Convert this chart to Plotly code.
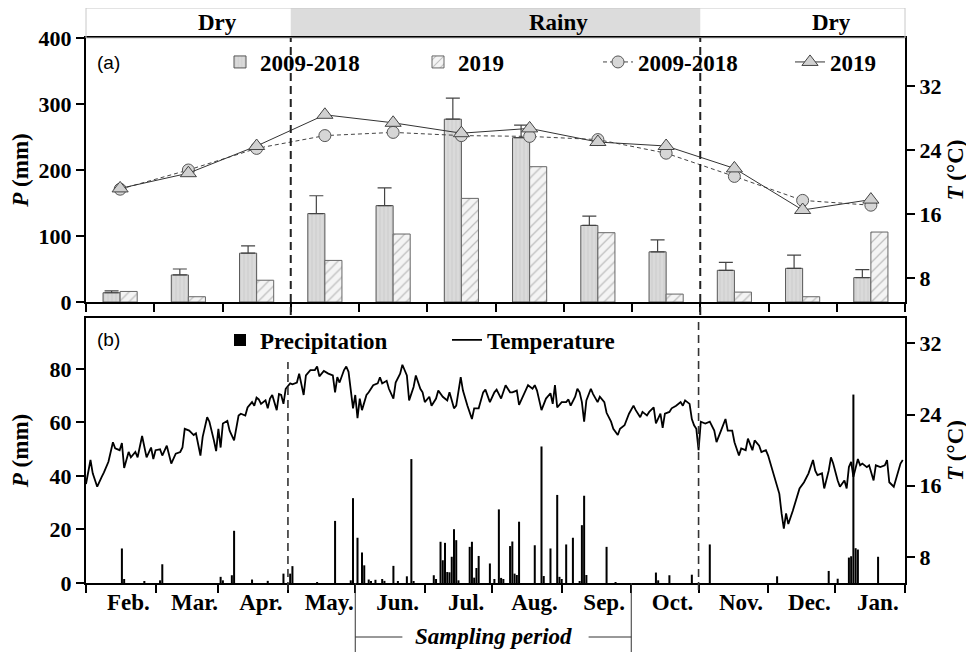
import plotly.graph_objects as go

# MONTHLY DATA (panel a) ######################################################
months = ["Feb.", "Mar.", "Apr.", "May.", "Jun.", "Jul.", "Aug.", "Sep.",
          "Oct.", "Nov.", "Dec.", "Jan."]
p_mean = [14, 41, 74, 134, 146, 277, 249, 116, 76, 48, 51, 37]
p_err = [3, 9, 11, 27, 27, 32, 19, 14, 18, 12, 20, 12]
p_2019 = [16, 8, 33, 63, 103, 157, 205, 105, 12, 15, 8, 106]
t_mean = [19.1, 21.5, 24.2, 25.8, 26.2, 25.8, 25.7, 25.3, 23.6, 20.7, 17.7, 17.1]
t_2019 = [19.2, 21.1, 24.5, 28.4, 27.4, 26.1, 26.7, 25.0, 24.5, 21.7, 16.5, 17.8]

# DAILY DATA (panel b), day 0 = first day on the axis ##########################
precip_day = [16, 17, 26, 33, 34, 60, 61, 65, 66, 74, 81, 88, 91, 92, 103, 111,
              118, 119, 121, 123, 124, 126, 127, 129, 132, 133, 137, 139, 143,
              145, 146, 155, 156, 158, 159, 160, 161, 162, 163, 164, 165, 166,
              171, 172, 173, 174, 175, 180, 182, 184, 185, 186, 189, 190, 191,
              192, 193, 200, 203, 204, 207, 210, 211, 212, 214, 217, 220, 221,
              222, 223, 232, 236, 254, 255, 260, 270, 278, 308, 331, 335, 340,
              341, 342, 343, 344, 353]
precip_mm = [12.9, 1.5, 0.5, 1.0, 7.0, 2.3, 1.0, 2.9, 19.5, 1.3, 0.8, 3.5, 3.5,
             6.3, 0.3, 23.2, 1.0, 31.7, 16.9, 11.4, 6.6, 1.3, 0.7, 1.2, 1.5, 0.8,
             6.4, 0.5, 2.5, 46.3, 0.5, 2.9, 1.5, 15.4, 8.5, 15.0, 4.1, 4.0, 9.8,
             20.1, 16.0, 1.0, 13.5, 15.4, 2.0, 5.6, 10.1, 7.3, 1.5, 27.5, 1.9,
             1.5, 13.8, 15.5, 3.5, 3.0, 22.9, 14.1, 51.0, 2.6, 12.9, 32.9, 2.3,
             1.5, 14.4, 16.9, 0.5, 21.6, 32.6, 3.0, 13.5, 0.3, 3.9, 1.0, 2.9,
             3.1, 14.4, 2.5, 4.5, 1.6, 9.5, 10.0, 70.4, 13.0, 12.5, 9.8]

temp_day = [0, 2, 3, 5, 7, 8, 10, 12, 13, 15, 16, 17, 19, 20, 22, 23, 25, 26, 27,
            29, 30, 31, 33, 34, 36, 38, 40, 42, 43, 44, 46, 48, 49, 51, 52, 54,
            55, 57, 58, 59, 60, 61, 63, 64, 66, 68, 69, 71, 72, 74, 75, 76, 77,
            78, 80, 81, 82, 83, 85, 86, 87, 88, 89, 91, 92, 94, 95, 97, 98, 100,
            102, 103, 104, 106, 108, 110, 111, 112, 113, 115, 116, 117, 118, 119,
            120, 121, 122, 123, 125, 126, 128, 130, 131, 132, 134, 135, 137, 138,
            140, 141, 143, 144, 146, 147, 149, 150, 151, 153, 154, 156, 157, 159,
            161, 162, 164, 165, 167, 168, 170, 172, 173, 175, 177, 178, 180, 182,
            183, 185, 187, 189, 190, 192, 193, 195, 197, 199, 200, 201, 203, 205,
            207, 208, 209, 210, 212, 214, 215, 216, 218, 219, 220, 221, 222, 223,
            225, 226, 228, 229, 231, 232, 234, 235, 237, 238, 240, 242, 244, 245,
            247, 248, 250, 251, 253, 254, 256, 257, 258, 260, 261, 263, 265, 266,
            267, 269, 270, 271, 272, 273, 274, 276, 278, 280, 281, 283, 285, 286,
            288, 289, 291, 292, 294, 295, 297, 298, 300, 301, 303, 304, 306, 307,
            309, 310, 311, 312, 313, 315, 317, 318, 320, 322, 324, 325, 326, 328,
            329, 331, 332, 333, 335, 336, 338, 339, 340, 341, 342, 344, 345, 346,
            348, 349, 351, 352, 354, 356, 357, 358, 360, 361, 363, 364]
temp_c = [16.2, 18.9, 17.4, 15.9, 17.0, 17.5, 18.7, 20.9, 20.2, 20.0, 20.8, 18.0,
          19.8, 19.2, 19.8, 19.2, 21.6, 20.3, 19.2, 20.3, 19.0, 20.0, 20.1, 19.4,
          20.5, 18.5, 19.6, 19.8, 20.3, 22.4, 22.2, 21.7, 21.9, 19.4, 21.5, 23.7,
          23.2, 21.1, 19.9, 22.4, 20.3, 23.0, 23.3, 22.2, 21.1, 23.9, 24.1, 23.9,
          24.8, 25.4, 25.0, 25.9, 25.7, 25.2, 25.6, 24.7, 25.8, 26.2, 24.5, 26.3,
          26.2, 25.2, 26.9, 27.5, 27.4, 27.6, 28.6, 26.2, 28.4, 29.0, 29.0, 29.4,
          28.3, 28.9, 28.6, 28.4, 26.5, 28.2, 27.6, 29.0, 29.4, 28.8, 26.7, 24.7,
          26.2, 23.6, 25.8, 24.5, 26.2, 26.5, 27.3, 27.5, 28.2, 27.5, 27.8, 26.9,
          25.8, 27.6, 28.6, 29.6, 28.4, 25.6, 27.1, 28.4, 26.9, 26.5, 25.4, 26.0,
          25.0, 25.8, 26.7, 26.0, 25.6, 26.5, 24.7, 25.0, 28.2, 26.7, 25.0, 23.5,
          24.7, 24.7, 26.5, 26.8, 25.4, 26.5, 26.8, 25.8, 27.3, 26.5, 26.5, 26.7,
          25.1, 26.3, 27.3, 26.9, 27.3, 26.7, 24.5, 25.8, 26.4, 25.2, 27.3, 24.8,
          25.4, 25.4, 25.7, 25.0, 26.0, 26.9, 26.5, 25.4, 23.2, 25.6, 26.9, 26.3,
          25.4, 26.0, 25.4, 24.2, 23.2, 22.4, 21.7, 22.4, 22.8, 24.1, 25.0, 24.5,
          23.7, 24.3, 23.9, 24.3, 24.8, 23.0, 24.1, 22.5, 24.1, 24.3, 24.7, 25.0,
          25.4, 25.0, 25.6, 25.2, 23.5, 22.8, 22.4, 20.0, 23.2, 23.0, 23.2, 22.2,
          20.9, 22.2, 23.5, 22.2, 22.2, 20.9, 19.4, 20.2, 20.0, 21.3, 20.0, 21.1,
          20.5, 19.8, 20.0, 19.4, 17.7, 17.0, 15.1, 12.9, 11.2, 12.9, 11.7, 13.2,
          14.7, 15.7, 16.4, 17.4, 18.9, 17.7, 17.2, 17.4, 15.7, 17.7, 19.2, 18.5,
          16.6, 15.9, 16.6, 15.7, 18.1, 18.7, 17.0, 19.0, 18.3, 18.5, 18.1, 18.3,
          16.6, 18.3, 18.1, 18.3, 18.9, 16.4, 15.9, 16.8, 18.5, 18.9]

month_edges = [0, 31, 59, 90, 120, 151, 181, 212, 243, 273, 304, 334, 365]
rainy_edges = [90, 273]        # start / end of the rainy season (days)
sampling = [120, 243]          # sampling period (days)
###############################################################################

FONT = "Liberation Serif"
tick_font = dict(family=FONT, size=22, color="black", weight="bold")
big_font = dict(family=FONT, size=23, color="black", weight="bold")

# Layout geometry, in pixels of the 974x652 page. The page body has an 8px
# margin, so the figure itself is drawn 8px smaller and offset by it.
W, H, OFF = 974, 652, 8
ML, MR, MT, MB = 86, 69, 38, 69
PW = W - ML - MR
PH = H - MT - MB
dom_a = [1 - 264 / PH, 1]
dom_b = [0, 1 - 280 / PH]


def px(x):
    """page column -> paper x"""
    return (x - ML) / PW


def py(y):
    """page row -> paper y"""
    return (H - MB - y) / PH


fig = go.Figure()

# PANEL (a) ###################################################################
fig.add_trace(go.Bar(
    x=months, y=p_mean, name="2009-2018", legend="legend", legendwidth=153,
    marker=dict(color="#d9d9d9", line=dict(color="#555", width=1),
                pattern=dict(shape="|", bgcolor="#dadada", fgcolor="#c3c3c3",
                             size=4, solidity=0.3)),
    error_y=dict(type="data", array=p_err, arrayminus=[0] * len(p_err),
                 symmetric=False, color="#444", thickness=1.2, width=7),
    xaxis="x", yaxis="y"))
fig.add_trace(go.Bar(
    x=months, y=p_2019, name="2019", legend="legend", legendwidth=135,
    marker=dict(color="#f4f4f4", line=dict(color="#666", width=1),
                pattern=dict(shape="/", bgcolor="#f4f4f4", fgcolor="#888",
                             size=7, solidity=0.18)),
    xaxis="x", yaxis="y"))
fig.add_trace(go.Scatter(
    x=months, y=t_mean, name="2009-2018", legend="legend", legendwidth=147,
    mode="lines+markers",
    line=dict(color="#444", width=1, dash="4px,3px"),
    marker=dict(symbol="circle", size=12, color="#d6d6d6",
                line=dict(color="#555", width=1)),
    xaxis="x", yaxis="y3"))
fig.add_trace(go.Scatter(
    x=months, y=t_2019, name="2019", legend="legend", legendwidth=50,
    mode="lines+markers",
    line=dict(color="#333", width=1),
    marker=dict(symbol="triangle-up", size=14, color="#d0d0d0",
                line=dict(color="#444", width=1)),
    xaxis="x", yaxis="y3"))

# PANEL (b) ###################################################################
fig.add_trace(go.Bar(
    x=precip_day, y=precip_mm, name="Precipitation", legend="legend2",
    legendwidth=182, width=0.9, marker=dict(color="black", line_width=0),
    xaxis="x2", yaxis="y2"))
fig.add_trace(go.Scatter(
    x=temp_day, y=temp_c, name="Temperature", legend="legend2", legendwidth=130,
    mode="lines", line=dict(color="black", width=1.8),
    xaxis="x2", yaxis="y4"))

# AXES ########################################################################
axis_common = dict(showline=True, linecolor="black", linewidth=2,
                   ticks="outside", ticklen=8, tickwidth=2, tickcolor="black",
                   showgrid=False, zeroline=False, tickfont=tick_font,
                   automargin=False)
label_pos = [(month_edges[i] + month_edges[i + 1]) / 2 + 3.4
             for i in range(len(months))]

fig.update_layout(
    xaxis=dict(axis_common, domain=[0, 1], anchor="y", type="category",
               range=[-0.5, 11.5], tickson="boundaries", mirror=True,
               showticklabels=False),
    yaxis=dict(axis_common, domain=dom_a, anchor="x", range=[0, 400],
               tickvals=[0, 100, 200, 300, 400], mirror=True,
               title=dict(text="<i>P</i> (mm)", font=big_font, standoff=4)),
    yaxis3=dict(axis_common, overlaying="y", side="right", anchor="x",
                range=[5, 38], tickvals=[8, 16, 24, 32],
                title=dict(text="<i>T</i> (°C)", font=big_font, standoff=6)),
    xaxis2=dict(axis_common, domain=[0, 1], anchor="y2", range=[0, 365],
                tickvals=label_pos, ticktext=months, ticks="", mirror=True,
                tickfont=big_font, ticklabelstandoff=-3,
                minor=dict(tickvals=month_edges, ticks="outside", ticklen=8,
                           tickwidth=2, tickcolor="black", showgrid=False)),
    yaxis2=dict(axis_common, domain=dom_b, anchor="x2", range=[0, 99],
                tickvals=[0, 20, 40, 60, 80], mirror=True,
                title=dict(text="<i>P</i> (mm)", font=big_font, standoff=16)),
    yaxis4=dict(axis_common, overlaying="y2", side="right", anchor="x2",
                range=[5.08, 34.85], tickvals=[8, 16, 24, 32],
                title=dict(text="<i>T</i> (°C)", font=big_font, standoff=6)),
)

# LEGENDS #####################################################################
legend_common = dict(orientation="h", xanchor="left", yanchor="middle",
                     bgcolor="rgba(0,0,0,0)", font=big_font,
                     entrywidthmode="pixels", itemwidth=30)
fig.update_layout(
    legend=dict(legend_common, x=px(220), y=py(62)),
    legend2=dict(legend_common, x=px(220), y=py(340)),
)

# SEASON HEADER, DASHED LINES, SAMPLING PERIOD ###############################
shapes = []
head_top = py(8)
shapes.append(dict(type="rect", xref="paper", yref="paper",
                   x0=3 / 12, x1=9 / 12, y0=1, y1=head_top,
                   fillcolor="#dcdcdc", line_width=0, layer="below"))
shapes.append(dict(type="rect", xref="paper", yref="paper", x0=0, x1=1,
                   y0=1, y1=head_top, line=dict(color="#c8c8c8", width=1)))
# season boundaries: panel a (category edges) and panel b (days)
for xa in (3 / 12, 9 / 12):
    shapes.append(dict(type="line", xref="paper", yref="paper", x0=xa, x1=xa,
                       y0=py(315), y1=1,
                       line=dict(color="#222", width=2, dash="8px,5px")))
for d, ytop in zip(rainy_edges, (py(362), py(320))):
    shapes.append(dict(type="line", xref="paper", yref="paper",
                       x0=d / 365, x1=d / 365, y0=py(590), y1=ytop,
                       line=dict(color="#333", width=1.6, dash="8px,5px")))
# sampling period bracket
for d in sampling:
    shapes.append(dict(type="line", xref="paper", yref="paper",
                       x0=d / 365, x1=d / 365, y0=0, y1=py(652),
                       line=dict(color="#333", width=1)))
shapes.append(dict(type="line", xref="paper", yref="paper",
                   x0=sampling[0] / 365, x1=141 / 365, y0=py(637), y1=py(637),
                   line=dict(color="#333", width=1)))
shapes.append(dict(type="line", xref="paper", yref="paper",
                   x0=224 / 365, x1=sampling[1] / 365, y0=py(637), y1=py(637),
                   line=dict(color="#333", width=1)))

annotations = [
    dict(text="Dry", x=(1.42 + 0.5) / 12, y=(1 + head_top) / 2),
    dict(text="Rainy", x=(6.42 + 0.5) / 12, y=(1 + head_top) / 2),
    dict(text="Dry", x=(10.42 + 0.5) / 12, y=(1 + head_top) / 2),
    dict(text="<i>Sampling period</i>", x=sum(sampling) / 2 / 365, y=py(636)),
]
for a in annotations:
    a.update(xref="paper", yref="paper", showarrow=False, font=big_font,
             xanchor="center", yanchor="middle")
for label, yy in (("(a)", py(62)), ("(b)", py(340))):
    annotations.append(dict(text=label, xref="paper", yref="paper",
                            x=px(95), y=yy,
                            xanchor="left", yanchor="middle", showarrow=False,
                            font=dict(family="Liberation Sans", size=19,
                                      color="black")))

fig.update_layout(
    width=W - OFF, height=H - OFF,
    margin=dict(l=ML - OFF, r=MR, t=MT - OFF, b=MB, autoexpand=False),
    paper_bgcolor="white", plot_bgcolor="white",
    barmode="group", bargap=0.5, bargroupgap=0,
    font=dict(family=FONT, color="black"),
    shapes=shapes, annotations=annotations,
)

fig.write_html("out.html")
